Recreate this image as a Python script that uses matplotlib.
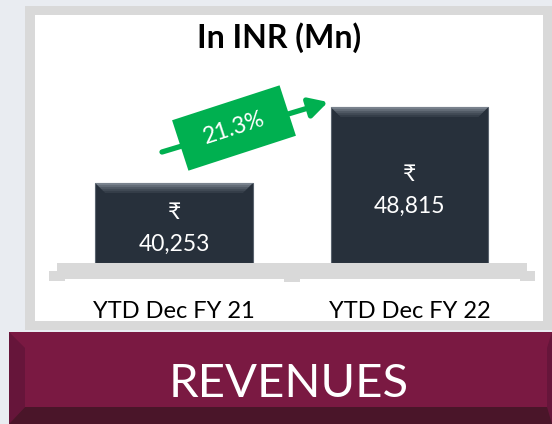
import numpy as np
import matplotlib.pyplot as plt
from matplotlib.patches import Polygon, Rectangle

plt.rcParams["font.family"] = ["Lato", "DejaVu Sans"]

categories = ["YTD Dec FY 21", "YTD Dec FY 22"]
revenues = [40253, 48815]
title = "In INR (Mn)"
banner_text = "REVENUES"

W, H = 552, 424
fig = plt.figure(figsize=(W / 100, H / 100), dpi=100)
fig.patch.set_facecolor("#e9ecf1")

# decoration layer in pixel coords (y down)
deco = fig.add_axes([0, 0, 1, 1])
deco.set_xlim(0, W)
deco.set_ylim(H, 0)
deco.axis("off")


def rect(x0, y0, x1, y1, color, z=1):
    deco.add_patch(Rectangle((x0, y0), x1 - x0, y1 - y0, facecolor=color,
                             edgecolor="none", zorder=z))


def poly(pts, color, z=1, target=None):
    target = target or deco
    target.add_patch(Polygon(pts, closed=True, facecolor=color, edgecolor="none",
                             zorder=z, transform=deco.transData, clip_on=False))


# panel
rect(25, 6, 560, 330, "#d9d9d9")
rect(35, 15, 543, 321, "white")

# shelf under the bars
rect(57, 263, 527, 279, "#d9d9d9", 2)
rect(49, 271, 65, 281, "#d9d9d9", 2)
rect(520, 271, 535, 281, "#d9d9d9", 2)
rect(284, 278, 300, 282, "#d9d9d9", 2)

# banner
rect(9, 332, 560, 424, "#7a1942", 2)
poly([(9, 332), (25, 348), (25, 407), (9, 424)], "#66153a", 3)
poly([(9, 424), (25, 407), (560, 407), (560, 424)], "#4a1529", 3)
poly([(547, 348), (552, 332), (552, 424), (547, 407)], "#66153a", 3)
deco.text(289, 384, banner_text, color="white", fontsize=34,
          ha="center", va="center", zorder=4)

deco.text(279, 38, title, fontsize=23, fontweight="bold",
          ha="center", va="center", zorder=4)

# bars
base = 31240
ax = fig.add_axes([49 / W, (H - 263) / H, (535 - 49) / W, 200 / H])
ax.set_xlim(-0.531, 1.533)
ax.set_ylim(base, 53770)
ax.axis("off")
ax.patch.set_alpha(0)
x = np.arange(len(categories))
heights = [v - base for v in revenues]
bars = ax.bar(x, heights, width=0.67, bottom=base,
              color="#27303b", edgecolor="#5a636e", linewidth=0.8, zorder=2)

shades = ["#7a838e", "#646d78", "#515a65", "#424b56", "#353e49"]
for i, (b, v) in enumerate(zip(bars, revenues)):
    # top bevel, computed from the bar geometry in pixel space
    (X0, Y0), (X1, Y1) = ax.transData.transform(
        [(b.get_x(), base), (b.get_x() + b.get_width(), v)])
    top = H - Y1
    for k, c in enumerate(shades):
        d0, d1 = k * 2.0, (k + 1) * 2.0
        poly([(X0 + d0, top + d0), (X1 - d0, top + d0),
              (X1 - d1, top + d1), (X0 + d1, top + d1)], c, 5, ax)
    ax.text(i, (v + base) / 2 - 650, "\u20b9\n" + f"{v:,}", color="white",
            fontsize=16.5, ha="center", va="center", linespacing=1.65, zorder=6)
    ax.text(i, base - 4300, categories[i], fontsize=17,
            ha="center", va="top", zorder=6)

# growth arrow
growth = revenues[1] / revenues[0] - 1
deco.annotate("", xy=(328, 102), xytext=(162, 152),
              arrowprops=dict(arrowstyle="-|>,head_length=1.1,head_width=0.6",
                              color="#00b050", lw=3.8, shrinkA=0, shrinkB=0),
              zorder=6)
theta = np.deg2rad(18)
c = np.array([234, 128])
u = np.array([np.cos(theta), -np.sin(theta)])
vv = np.array([np.sin(theta), np.cos(theta)])
bw, bh = 113, 53
box = [c - bw / 2 * u - bh / 2 * vv, c + bw / 2 * u - bh / 2 * vv,
       c + bw / 2 * u + bh / 2 * vv, c - bw / 2 * u + bh / 2 * vv]
poly(box, "#00b050", 7)
deco.text(c[0], c[1], f"{growth * 100:.1f}%", color="white", fontsize=16.5,
          rotation=18, rotation_mode="anchor", ha="center", va="center", zorder=8)

fig.savefig("out.png", dpi=100, facecolor=fig.get_facecolor())
